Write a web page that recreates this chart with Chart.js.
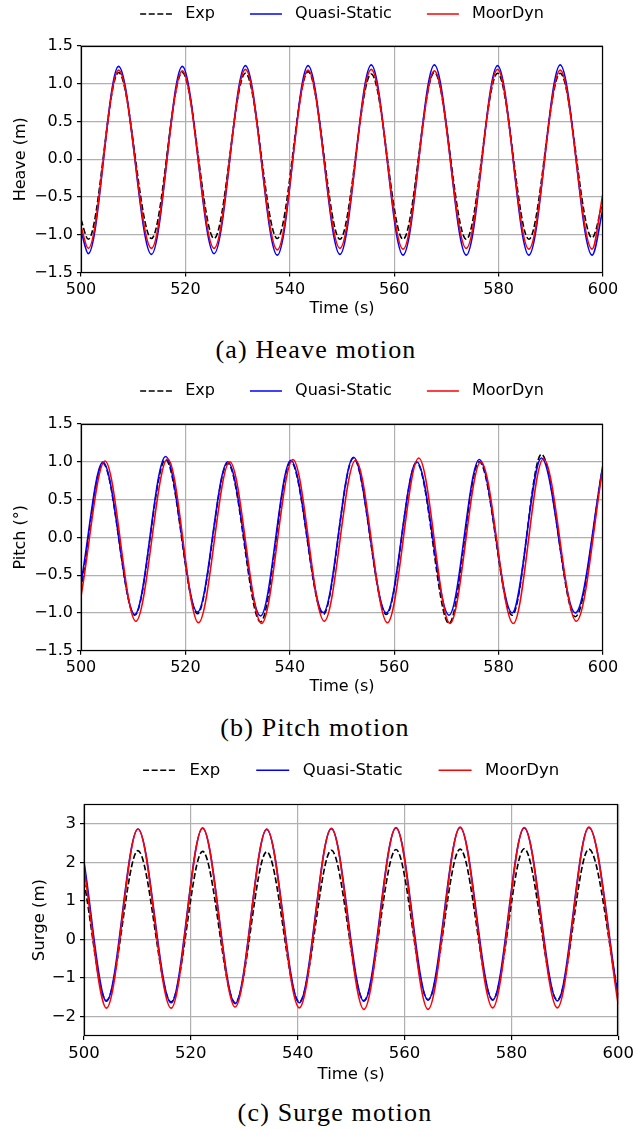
<!DOCTYPE html>
<html>
<head>
<meta charset="utf-8">
<title>Heave, pitch and surge motion</title>
<script src="https://cdn.jsdelivr.net/npm/chart.js@4.4.1/dist/chart.umd.min.js"></script>
<style>
  body { margin: 0; background: #fff; }
  #page { position: relative; width: 638px; height: 1131px; overflow: hidden; }
  .panel { position: absolute; left: 0; width: 638px; }
  .caption { position: absolute; width: 638px; text-align: center; font-family: "Liberation Serif", serif;
             font-size: 26px; line-height: 30px; letter-spacing: 1.2px; color: #000; }
</style>
</head>
<body>
<div id="page">
  <div class="panel" style="top:-29px"><canvas id="heaveChart" width="638" height="349"></canvas></div>
  <div class="caption" style="top:335px;left:-3px">(a) Heave motion</div>
  <div class="panel" style="top:348px"><canvas id="pitchChart" width="638" height="352"></canvas></div>
  <div class="caption" style="top:713px;left:-4px">(b) Pitch motion</div>
  <div class="panel" style="top:726px"><canvas id="surgeChart" width="638" height="364"></canvas></div>
  <div class="caption" style="top:1098px;left:16px">(c) Surge motion</div>
</div>
<script>
// values at the turning points (time in s)
const heaveTime = [500, 501.4, 507.2, 513.5, 519.4, 525.5, 531.5, 537.6, 543.5, 549.6, 555.6, 561.7, 567.7, 573.8, 579.8, 585.8, 591.8, 597.9, 600];
const heaveExp = [-0.80, -1.06, 1.15, -1.05, 1.15, -1.05, 1.14, -1.05, 1.16, -1.06, 1.13, -1.06, 1.15, -1.06, 1.14, -1.06, 1.14, -1.04, -0.55];
const heaveQS  = [-0.94, -1.25, 1.23, -1.26, 1.23, -1.25, 1.24, -1.27, 1.24, -1.26, 1.25, -1.27, 1.25, -1.27, 1.24, -1.27, 1.25, -1.27, -0.65];
const heaveMD  = [-0.89, -1.18, 1.18, -1.18, 1.17, -1.18, 1.19, -1.20, 1.18, -1.18, 1.19, -1.19, 1.17, -1.18, 1.19, -1.19, 1.18, -1.19, -0.45];

const pitchTime   = [500, 504.2, 510.3, 516.2, 522.3, 528.1, 534.4, 540.2, 546.4, 552.2, 558.5, 564.3, 570.5, 576.3, 582.6, 588.2, 594.7, 600];
const pitchTimeMD = [500, 504.6, 510.5, 516.6, 522.5, 528.5, 534.6, 540.6, 546.6, 552.6, 558.7, 564.7, 570.7, 576.6, 582.8, 588.6, 594.9, 600];
const pitchExp = [-0.70, 0.98, -1.03, 1.03, -1.01, 0.98, -1.12, 1.00, -1.02, 1.05, -1.02, 0.99, -1.14, 1.00, -1.03, 1.10, -1.05, 0.95];
const pitchQS  = [-0.60, 0.995, -1.02, 1.07, -0.99, 1.00, -1.04, 1.02, -0.995, 1.06, -1.00, 1.00, -1.03, 1.03, -1.00, 1.05, -1.00, 0.96];
const pitchMD  = [-0.78, 1.01, -1.11, 1.04, -1.13, 1.00, -1.14, 1.03, -1.11, 1.02, -1.13, 1.05, -1.14, 1.00, -1.14, 1.04, -1.11, 0.93];

const surgeTime = [500, 504.2, 510.1, 516.3, 522.2, 528.3, 534.2, 540.3, 546.3, 552.4, 558.4, 564.4, 570.4, 576.5, 582.4, 588.6, 594.5, 600];
const surgeExp = [1.50, -1.58, 2.30, -1.62, 2.28, -1.64, 2.27, -1.62, 2.31, -1.58, 2.33, -1.56, 2.34, -1.56, 2.35, -1.57, 2.34, -1.45];
const surgeQS  = [2.00, -1.60, 2.86, -1.64, 2.88, -1.66, 2.85, -1.64, 2.87, -1.60, 2.89, -1.57, 2.90, -1.57, 2.89, -1.59, 2.90, -1.52];
const surgeMD  = [1.85, -1.78, 2.86, -1.78, 2.89, -1.75, 2.86, -1.77, 2.88, -1.81, 2.90, -1.81, 2.91, -1.77, 2.90, -1.77, 2.91, -1.68];

const seriesLabels = ['Exp', 'Quasi-Static', 'MoorDyn'];
const timeTicks = [500, 520, 540, 560, 580, 600];

const toPoints = (xs, ys) => xs.map((x, i) => ({ x: x, y: ys[i] }));
const minus = (s) => String(s).replace('-', '\u2212');

// black box around the axes, like matplotlib spines
const frame = {
    id: 'frame',
    afterDatasetsDraw(chart) {
        const { ctx, chartArea: a } = chart;
        const l = Math.round(a.left) + 0.5, t = Math.round(a.top) + 0.5;
        const r = Math.round(a.right) - 0.5, b = Math.round(a.bottom) - 0.5;
        ctx.save();
        ctx.strokeStyle = '#000';
        ctx.lineWidth = 1.2;
        ctx.strokeRect(l, t, r - l, b - t);
        ctx.restore();
    }
};

const fixLegend = (h) => ({
    id: 'fixLegend',
    afterInit(chart) {
        const legend = chart.legend;
        const fit = legend.fit;
        legend.fit = function () { fit.call(this); this.height = h; };
    }
});

const makePanel = (id, p) => {
    const font = { family: 'DejaVu Sans', size: p.fontSize };
    const colors = ['#000000', '#0000ff', '#ff0000'];
    const series = [p.exp, p.qs, p.md];
    const times = [p.time, p.time, p.timeMD || p.time];
    const datasets = series.map((vals, i) => ({
        label: seriesLabels[i],
        data: toPoints(times[i], vals),
        borderColor: colors[i],
        backgroundColor: colors[i],
        borderWidth: p.lineWidth,
        borderDash: i === 0 ? [6, 2.6] : [],
        pointRadius: 0,
        fill: false,
        cubicInterpolationMode: 'monotone',
        order: 2 - i
    }));

    return new Chart(document.getElementById(id), {
        type: 'line',
        data: { datasets: datasets },
        options: {
            responsive: false,
            animation: false,
            devicePixelRatio: 1,
            events: [],
            layout: { padding: { left: 0, right: p.padRight, top: 0, bottom: 0 } },
            plugins: {
                tooltip: { enabled: false },
                legend: {
                    position: 'top',
                    fullSize: false,
                    labels: {
                        font: font,
                        color: '#000',
                        usePointStyle: true,
                        pointStyle: 'line',
                        pointStyleWidth: p.handle,
                        padding: p.legendPad,
                        sort: (a, b) => a.datasetIndex - b.datasetIndex,
                        generateLabels: (chart) => Chart.defaults.plugins.legend.labels.generateLabels(chart).map(item => {
                            const ds = chart.data.datasets[item.datasetIndex];
                            return { ...item, text: ' ' + item.text, lineDash: ds.borderDash, lineWidth: ds.borderWidth, strokeStyle: ds.borderColor };
                        })
                    }
                }
            },
            scales: {
                x: {
                    type: 'linear',
                    min: 500,
                    max: 600,
                    afterFit: (s) => { s.height = p.xHeight; },
                    afterBuildTicks: (s) => { s.ticks = timeTicks.map(v => ({ value: v })); },
                    ticks: { font: font, color: '#000', padding: 4, maxRotation: 0 },
                    grid: { color: '#b0b0b0', lineWidth: 1.2, tickColor: '#000', tickLength: 4, tickWidth: 1.2 },
                    border: { display: false },
                    title: { display: true, text: 'Time (s)', font: font, color: '#000', padding: { top: 0, bottom: p.xTitlePad } }
                },
                y: {
                    min: p.yMin,
                    max: p.yMax,
                    afterFit: (s) => { s.width = p.yWidth; },
                    afterBuildTicks: (s) => { s.ticks = p.yTicks.map(v => ({ value: v })); },
                    ticks: { font: font, color: '#000', padding: 4, callback: (v) => minus(v.toFixed(p.yDigits)) },
                    grid: { color: '#b0b0b0', lineWidth: 1.2, tickColor: '#000', tickLength: 4, tickWidth: 1.2 },
                    border: { display: false },
                    title: { display: true, text: p.yTitle, font: font, color: '#000', padding: { top: p.yTitlePad, bottom: 0 } }
                }
            }
        },
        plugins: [frame, fixLegend(p.legendHeight)]
    });
};

const heaveChart = makePanel('heaveChart', {
    time: heaveTime, exp: heaveExp, qs: heaveQS, md: heaveMD,
    yMin: -1.5, yMax: 1.5, yTicks: [-1.5, -1, -0.5, 0, 0.5, 1, 1.5], yDigits: 1, yTitle: 'Heave (m)',
    fontSize: 16, lineWidth: 1.6, handle: 32, legendPad: 35,
    legendHeight: 75, xHeight: 47.5, xTitlePad: 1.7, yWidth: 81, yTitlePad: 11.5, padRight: 35
});

const pitchChart = makePanel('pitchChart', {
    time: pitchTime, timeMD: pitchTimeMD, exp: pitchExp, qs: pitchQS, md: pitchMD,
    yMin: -1.5, yMax: 1.5, yTicks: [-1.5, -1, -0.5, 0, 0.5, 1, 1.5], yDigits: 1, yTitle: 'Pitch (°)',
    fontSize: 16, lineWidth: 1.6, handle: 32, legendPad: 35,
    legendHeight: 76, xHeight: 49.3, xTitlePad: 3.2, yWidth: 81, yTitlePad: 11.5, padRight: 35
});

const surgeChart = makePanel('surgeChart', {
    time: surgeTime, exp: surgeExp, qs: surgeQS, md: surgeMD,
    yMin: -2.5, yMax: 3.5, yTicks: [-2, -1, 0, 1, 2, 3], yDigits: 0, yTitle: 'Surge (m)',
    fontSize: 16.5, lineWidth: 1.65, handle: 33, legendPad: 36,
    legendHeight: 78.3, xHeight: 54, xTitlePad: 5.6, yWidth: 84, yTitlePad: 29.5, padRight: 16
});
</script>
</body>
</html>
